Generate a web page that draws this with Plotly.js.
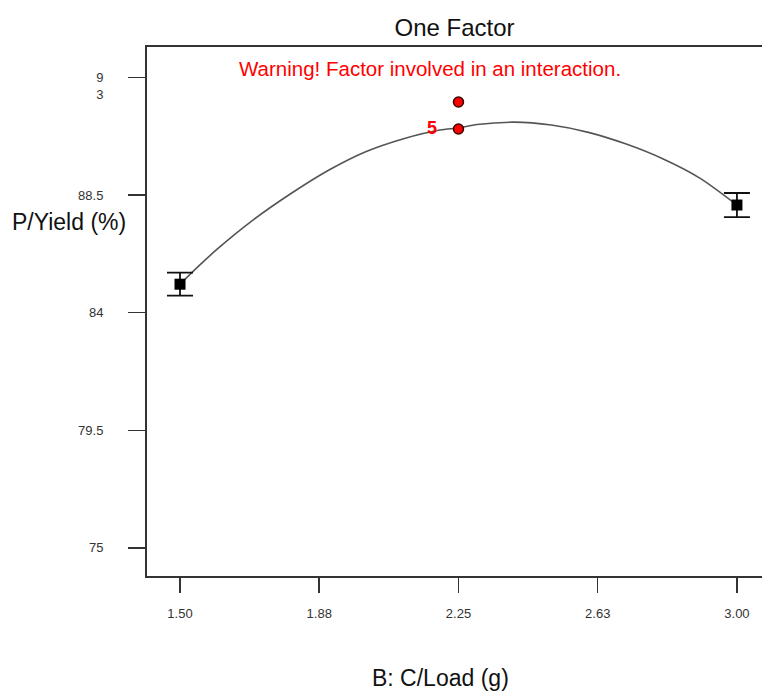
<!DOCTYPE html>
<html>
<head>
<meta charset="utf-8">
<script src="https://cdn.plot.ly/plotly-3.0.1.min.js"></script>
<style>
  html, body { margin: 0; padding: 0; background: #fff; }
  #chart { width: 762px; height: 692px; }
</style>
</head>
<body>
<div id="chart"></div>
<script>
// Predicted response curve
const curveX = [1.50, 1.55, 1.60, 1.70, 1.80, 1.90, 2.00, 2.10, 2.20, 2.25, 2.30, 2.40, 2.50, 2.60, 2.70, 2.80, 2.90, 3.00];
const curveY = [85.09, 85.78, 86.43, 87.58, 88.57, 89.45, 90.16, 90.65, 90.99, 91.07, 91.20, 91.29, 91.18, 90.90, 90.46, 89.89, 89.15, 88.12];

// Predicted means with LSD bars at the ends
const meanX = [1.50, 3.00];
const meanY = [85.09, 88.12];
const meanErr = [0.44, 0.46];

// Design points (red)
const designX = [2.25, 2.25];
const designY = [92.06, 91.03];
const designLabel = '5';

// Axis ticks
const yTickVals = [75, 79.5, 84, 88.5, 93];
const yTickText = ['75', '79.5', '84', '88.5', '&nbsp;<br>9<br>3'];
const xTickVals = [1.5, 1.875, 2.25, 2.625, 3.0];
const xTickText = ['1.50', '1.88', '2.25', '2.63', '3.00'];

const titleText = 'One Factor';
const warningText = 'Warning! Factor involved in an interaction.';
const yTitleText = 'P/Yield (%)';
const xTitleText = 'B: C/Load (g)';

const FONT = 'Liberation Sans, Arial, sans-serif';

const traces = [
  {
    x: curveX, y: curveY, type: 'scatter', mode: 'lines',
    line: { color: '#555555', width: 1.6, shape: 'spline', smoothing: 0.8 },
    hoverinfo: 'skip', showlegend: false
  },
  {
    x: meanX, y: meanY, type: 'scatter', mode: 'markers',
    marker: { symbol: 'square', size: 11, color: '#000000' },
    error_y: { type: 'data', array: meanErr, visible: true, color: '#111111', thickness: 1.8, width: 13 },
    showlegend: false
  },
  {
    x: designX, y: designY, type: 'scatter', mode: 'markers',
    marker: { symbol: 'circle', size: 10, color: '#ff0000', line: { color: '#3a0000', width: 1.5 } },
    showlegend: false
  }
];

const layout = {
  width: 762, height: 692,
  margin: { l: 147, r: 0, t: 47, b: 116 },
  paper_bgcolor: '#ffffff', plot_bgcolor: '#ffffff',
  font: { family: FONT, color: '#333333' },
  title: {
    text: titleText,
    font: { family: FONT, size: 24, color: '#111111' },
    xref: 'paper', x: 0.5, xanchor: 'center',
    yref: 'container', y: 1 - 28 / 692, yanchor: 'middle'
  },
  xaxis: {
    range: [1.4111, 3.0675],
    tickmode: 'array', tickvals: xTickVals, ticktext: xTickText,
    ticks: 'outside', ticklen: 15, tickwidth: 1.5, tickcolor: '#333333',
    ticklabelstandoff: 9,
    tickfont: { family: FONT, size: 13, color: '#333333' },
    showline: true, linecolor: '#333333', linewidth: 2, mirror: true,
    showgrid: false, zeroline: false, fixedrange: true
  },
  yaxis: {
    range: [73.926, 94.166],
    tickmode: 'array', tickvals: yTickVals, ticktext: yTickText,
    ticks: 'outside', ticklen: 17, tickwidth: 1.5, tickcolor: '#333333',
    ticklabelstandoff: 22,
    tickfont: { family: FONT, size: 13, color: '#333333' },
    showline: true, linecolor: '#333333', linewidth: 2, mirror: false,
    showgrid: false, zeroline: false, fixedrange: true
  },
  annotations: [
    {
      text: warningText, xref: 'paper', yref: 'paper',
      x: (430 - 147) / 615, y: (576 - 68) / 529, xanchor: 'center', yanchor: 'middle',
      showarrow: false, font: { family: FONT, size: 20.5, color: '#ff0000' }
    },
    {
      text: designLabel, xref: 'x', yref: 'y',
      x: designX[1], y: designY[1], xanchor: 'right', yanchor: 'middle', xshift: -19, yshift: 1,
      showarrow: false, font: { family: FONT, size: 18, color: '#ff0000', weight: 'bold' }
    },
    {
      text: yTitleText, xref: 'paper', yref: 'paper',
      x: (69 - 147) / 615, y: (576 - 222) / 529, xanchor: 'center', yanchor: 'middle',
      showarrow: false, font: { family: FONT, size: 23, color: '#111111' }
    },
    {
      text: xTitleText, xref: 'paper', yref: 'paper',
      x: (440 - 147) / 615, y: (576 - 678) / 529, xanchor: 'center', yanchor: 'middle',
      showarrow: false, font: { family: FONT, size: 23, color: '#111111' }
    }
  ]
};

Plotly.newPlot('chart', traces, layout, { displayModeBar: false, staticPlot: true });
</script>
</body>
</html>
